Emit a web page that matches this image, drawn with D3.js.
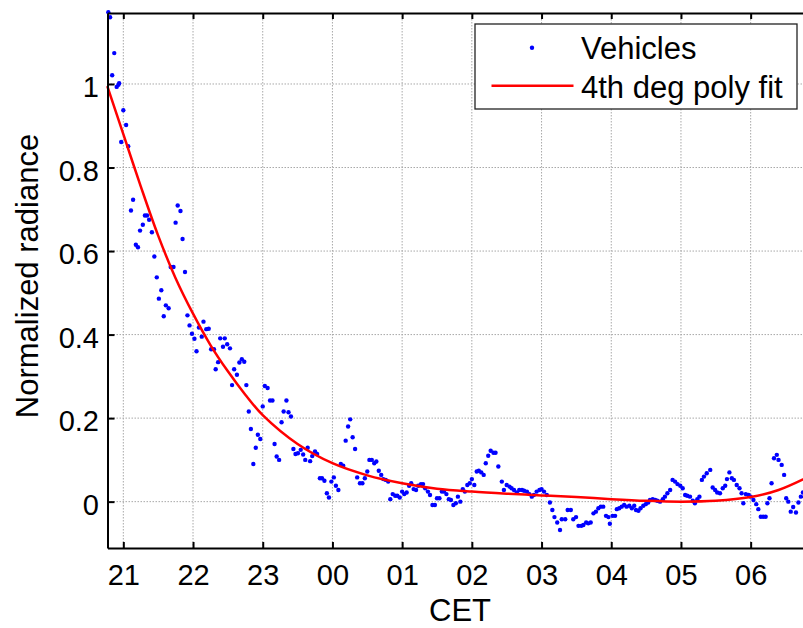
<!DOCTYPE html>
<meta charset="utf-8">
<title>Normalized radiance</title>
<body>
<script src="https://cdn.jsdelivr.net/npm/d3@7"></script>
<style>
html, body {
    margin: 0;
    background: #fff;
}
svg {
    display: block;
    font-family: "Liberation Sans", Arial, sans-serif;
}
.grid line {
    stroke: #a8a8a8;
    stroke-width: 1;
    stroke-dasharray: 1.5,1.5;
}
.axis path, .axis line {
    stroke: #000;
    stroke-width: 2;
}
.axis text {
    font-size: 29px;
    fill: #000;
}
</style>
<svg></svg>
<script>
// hours after 21:00 continue past 24 (24 = 00 CET)
var hours = [
    20.785, 20.81, 20.84, 20.87, 20.905, 20.93, 20.94, 20.97, 21.00, 21.04,
    21.07, 21.11, 21.14, 21.18, 21.21, 21.24, 21.28, 21.31, 21.34, 21.37,
    21.41, 21.445, 21.48, 21.51, 21.545, 21.58, 21.61, 21.65, 21.68, 21.72,
    21.75, 21.78, 21.82, 21.85, 21.885, 21.92, 21.95, 21.985, 22.02, 22.05,
    22.085, 22.125, 22.15, 22.19, 22.225, 22.26, 22.30, 22.325, 22.36, 22.39,
    22.43, 22.455, 22.49, 22.53, 22.56, 22.59, 22.63, 22.665, 22.70, 22.735,
    22.765, 22.80, 22.83, 22.865, 22.90, 22.93, 22.965, 23.00, 23.03, 23.07,
    23.105, 23.14, 23.17, 23.20, 23.235, 23.27, 23.30, 23.34, 23.37, 23.405,
    23.44, 23.47, 23.505, 23.545, 23.58, 23.61, 23.645, 23.68, 23.71, 23.75,
    23.78, 23.82, 23.85, 23.885, 23.92, 23.95, 23.985, 24.02, 24.05, 24.085,
    24.12, 24.155, 24.19, 24.225, 24.255, 24.29, 24.325, 24.355, 24.395, 24.43,
    24.465, 24.50, 24.53, 24.565, 24.60, 24.63, 24.665, 24.70, 24.73, 24.765,
    24.80, 24.83, 24.865, 24.90, 24.93, 24.965, 25.00, 25.03, 25.065, 25.10,
    25.13, 25.165, 25.20, 25.23, 25.27, 25.30, 25.33, 25.37, 25.40, 25.435,
    25.47, 25.50, 25.535, 25.57, 25.60, 25.635, 25.67, 25.70, 25.735, 25.77,
    25.80, 25.835, 25.87, 25.90, 25.935, 25.97, 26.00, 26.035, 26.07, 26.10,
    26.135, 26.17, 26.20, 26.235, 26.27, 26.31, 26.34, 26.38, 26.43, 26.46,
    26.50, 26.54, 26.57, 26.605, 26.645, 26.68, 26.72, 26.75, 26.79, 26.825,
    26.86, 26.89, 26.93, 26.97, 27.00, 27.035, 27.075, 27.12, 27.155, 27.185,
    27.225, 27.265, 27.29, 27.34, 27.375, 27.42, 27.455, 27.495, 27.53, 27.57,
    27.60, 27.64, 27.67, 27.705, 27.745, 27.78, 27.815, 27.85, 27.885, 27.925,
    27.96, 27.98, 28.02, 28.055, 28.08, 28.115, 28.15, 28.185, 28.22, 28.26,
    28.295, 28.33, 28.355, 28.39, 28.42, 28.46, 28.495, 28.53, 28.555, 28.595,
    28.63, 28.66, 28.70, 28.74, 28.77, 28.805, 28.845, 28.88, 28.915, 28.95,
    28.99, 29.025, 29.06, 29.09, 29.13, 29.17, 29.20, 29.235, 29.265, 29.30,
    29.33, 29.37, 29.42, 29.455, 29.49, 29.52, 29.56, 29.60, 29.635, 29.66,
    29.695, 29.73, 29.76, 29.80, 29.84, 29.87, 29.895, 29.93, 29.97, 30.00,
    30.04, 30.08, 30.11, 30.145, 30.18, 30.215, 30.24, 30.27, 30.30, 30.335,
    30.375, 30.40, 30.445, 30.48, 30.51, 30.54, 30.575, 30.61, 30.65, 30.685,
    30.72, 30.75
];

var radiance = [
    1.172, 1.16, 1.021, 1.074, 0.993, 0.998, 1.002, 0.861, 0.937, 0.902,
    0.851, 0.697, 0.723, 0.615, 0.609, 0.649, 0.663, 0.685, 0.685, 0.675,
    0.645, 0.587, 0.537, 0.486, 0.506, 0.444, 0.47, 0.463, 0.562, 0.562,
    0.668, 0.709, 0.696, 0.629, 0.55, 0.446, 0.422, 0.402, 0.39, 0.36,
    0.417, 0.395, 0.431, 0.413, 0.414, 0.365, 0.365, 0.317, 0.334, 0.391,
    0.371, 0.391, 0.377, 0.367, 0.279, 0.317, 0.304, 0.333, 0.341, 0.335,
    0.279, 0.216, 0.174, 0.09, 0.129, 0.16, 0.15, 0.228, 0.277, 0.272,
    0.242, 0.242, 0.138, 0.108, 0.10, 0.19, 0.216, 0.242, 0.214, 0.204,
    0.126, 0.114, 0.116, 0.124, 0.113, 0.10, 0.129, 0.097, 0.109, 0.12,
    0.114, 0.056, 0.056, 0.05, 0.02, 0.01, 0.048, 0.058, 0.038, 0.028,
    0.09, 0.086, 0.146, 0.18, 0.197, 0.154, 0.126, 0.058, 0.044, 0.044,
    0.056, 0.072, 0.10, 0.10, 0.092, 0.096, 0.074, 0.064, 0.054, 0.052,
    0.048, 0.006, 0.018, 0.014, 0.014, 0.01, 0.024, 0.018, 0.022, 0.038,
    0.044, 0.03, 0.028, 0.038, 0.042, 0.042, 0.032, 0.024, 0.016, -0.008,
    -0.008, 0.008, 0.008, 0.024, 0.024, 0.018, 0.006, 0.004, -0.008, -0.004,
    0.012, 0.0, 0.03, 0.024, 0.04, 0.044, 0.054, 0.04, 0.072, 0.074,
    0.07, 0.064, 0.092, 0.11, 0.122, 0.117, 0.117, 0.084, 0.048, 0.028,
    0.04, 0.036, 0.032, 0.028, 0.022, 0.028, 0.028, 0.026, 0.024, 0.018,
    0.012, 0.016, 0.024, 0.028, 0.03, 0.024, 0.016, -0.002, -0.02, -0.037,
    -0.05, -0.068, -0.042, -0.042, -0.02, -0.02, -0.042, -0.037, -0.058, -0.058,
    -0.056, -0.05, -0.052, -0.05, -0.028, -0.024, -0.016, -0.012, -0.012, -0.034,
    -0.037, -0.053, -0.034, -0.034, -0.018, -0.016, -0.012, -0.008, -0.012, -0.01,
    -0.016, -0.01, -0.02, -0.022, -0.016, -0.01, -0.006, -0.002, 0.004, 0.006,
    0.004, 0.002, 0.0, 0.006, 0.012, 0.02, 0.028, 0.052, 0.048, 0.042,
    0.038, 0.032, 0.016, 0.014, 0.012, 0.002, -0.004, 0.006, 0.012, 0.052,
    0.06, 0.068, 0.076, 0.034, 0.028, 0.022, 0.02, 0.032, 0.038, 0.054,
    0.07, 0.056, 0.052, 0.04, 0.032, 0.02, -0.004, 0.018, 0.016, 0.012,
    0.004, -0.006, -0.018, -0.036, -0.036, -0.036, -0.004, 0.008, 0.044, 0.104,
    0.112, 0.1, 0.088, 0.064, 0.008, 0.0, -0.024, -0.013, -0.026, -0.002,
    0.012, 0.022
];

// red 4th degree polynomial fit
var fitHours  = [20.77, 21.0, 21.25, 21.5, 21.75, 22.0, 22.25, 22.5, 22.75, 23.0, 23.5, 24.0, 24.5,
                 25.0, 25.5, 26.0, 26.5, 27.0, 27.5, 28.0, 28.5, 29.0, 29.5, 30.0, 30.4, 30.88];
var fitValues = [0.995, 0.88, 0.755, 0.637, 0.535, 0.45, 0.375, 0.312, 0.256, 0.207, 0.138, 0.092, 0.063,
                 0.044, 0.031, 0.024, 0.019, 0.015, 0.011, 0.006, 0.002, 0.0, 0.002, 0.011, 0.028, 0.064];

var xTicks = [21, 22, 23, 24, 25, 26, 27, 28, 29, 30];
var xTickLabels = ["21", "22", "23", "00", "01", "02", "03", "04", "05", "06"];
var yTicks = [0, 0.2, 0.4, 0.6, 0.8, 1];
var yTickLabels = ["0", "0.2", "0.4", "0.6", "0.8", "1"];

var width = 803,
    height = 628,
    plotLeft = 107.5,
    plotRight = 812,
    plotTop = 13,
    plotBottom = 548;

var svg = d3.select("svg")
    .attr("width", width)
    .attr("height", height);

var x = d3.scaleLinear()
    .domain([20.773, 30.88])
    .range([plotLeft, plotRight]);

var y = d3.scaleLinear()
    .domain([-0.111, 1.17])
    .range([plotBottom, plotTop]);

// grid
var grid = svg.append("g").attr("class", "grid");

grid.selectAll(".gx")
    .data(xTicks)
    .enter().append("line")
    .attr("x1", function(d) { return x(d); })
    .attr("x2", function(d) { return x(d); })
    .attr("y1", plotTop)
    .attr("y2", plotBottom);

grid.selectAll(".gy")
    .data(yTicks)
    .enter().append("line")
    .attr("x1", plotLeft)
    .attr("x2", plotRight)
    .attr("y1", function(d) { return y(d); })
    .attr("y2", function(d) { return y(d); });

// data
svg.append("g")
    .selectAll("circle")
    .data(d3.range(hours.length))
    .enter().append("circle")
    .attr("cx", function(i) { return x(hours[i]); })
    .attr("cy", function(i) { return y(radiance[i]); })
    .attr("r", 2.2)
    .attr("fill", "#0000ff");

var line = d3.line()
    .x(function(i) { return x(fitHours[i]); })
    .y(function(i) { return y(fitValues[i]); })
    .curve(d3.curveCatmullRom);

svg.append("path")
    .datum(d3.range(fitHours.length))
    .attr("d", line)
    .attr("fill", "none")
    .attr("stroke", "#ff0000")
    .attr("stroke-width", 2.5);

// axes, ticks inside
var xAxis = svg.append("g")
    .attr("class", "axis")
    .attr("transform", "translate(0," + plotBottom + ")")
    .call(d3.axisBottom(x)
        .tickValues(xTicks)
        .tickFormat(function(d, i) { return xTickLabels[i]; })
        .tickSizeInner(-6)
        .tickSizeOuter(0)
        .tickPadding(16));

var xTopAxis = svg.append("g")
    .attr("class", "axis")
    .attr("transform", "translate(0," + plotTop + ")")
    .call(d3.axisTop(x)
        .tickValues(xTicks)
        .tickFormat("")
        .tickSizeInner(-6)
        .tickSizeOuter(0));

var yAxis = svg.append("g")
    .attr("class", "axis")
    .attr("transform", "translate(" + plotLeft + ",0)")
    .call(d3.axisLeft(y)
        .tickValues(yTicks)
        .tickFormat(function(d, i) { return yTickLabels[i]; })
        .tickSizeInner(-7)
        .tickSizeOuter(0)
        .tickPadding(8.5));

yAxis.selectAll("text").attr("dy", "0.44em");
svg.selectAll(".axis .domain").attr("stroke-width", 2.2);

// labels
svg.append("text")
    .attr("x", 460)
    .attr("y", 621)
    .attr("text-anchor", "middle")
    .attr("font-size", 31)
    .text("CET");

svg.append("text")
    .attr("transform", "translate(38,276)rotate(-90)")
    .attr("text-anchor", "middle")
    .attr("font-size", 31)
    .text("Normalized radiance");

// legend
var legend = svg.append("g");

legend.append("rect")
    .attr("x", 475)
    .attr("y", 24)
    .attr("width", 322)
    .attr("height", 85)
    .attr("fill", "#fff")
    .attr("stroke", "#222")
    .attr("stroke-width", 1.3);

legend.append("circle")
    .attr("cx", 532)
    .attr("cy", 47.7)
    .attr("r", 2.2)
    .attr("fill", "#0000ff");

legend.append("line")
    .attr("x1", 491.5)
    .attr("x2", 573.5)
    .attr("y1", 85.7)
    .attr("y2", 85.7)
    .attr("stroke", "#ff0000")
    .attr("stroke-width", 2.5);

legend.append("text")
    .attr("x", 581)
    .attr("y", 59.3)
    .attr("font-size", 31)
    .text("Vehicles");

legend.append("text")
    .attr("x", 581)
    .attr("y", 97.7)
    .attr("font-size", 31)
    .text("4th deg poly fit");
</script>
